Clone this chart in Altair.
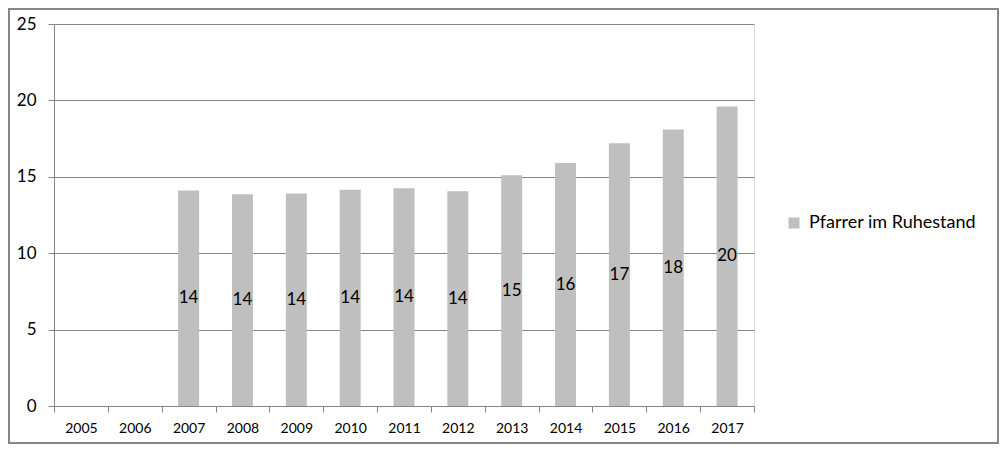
import altair as alt
import pandas as pd

years = ["2005", "2006", "2007", "2008", "2009", "2010", "2011", "2012", "2013", "2014", "2015", "2016", "2017"]
values = [None, None, 14.1, 13.85, 13.9, 14.15, 14.25, 14.05, 15.1, 15.9, 17.2, 18.1, 19.6]
series = "Pfarrer im Ruhestand"

df = pd.DataFrame({"Jahr": years, "Wert": values})
df = df.dropna().copy()
df["Serie"] = series
df["Label"] = df["Wert"].round(0).astype(int).astype(str)

FONT = "Lato"
W, H = 700, 382
xscale = alt.Scale(domain=years, paddingInner=0, paddingOuter=0)

xenc = alt.X("Jahr:N", title=None, sort=years, scale=xscale,
             axis=alt.Axis(labelAngle=0, tickBand="extent", domainColor="#868686", tickColor="#868686",
                           tickSize=6, labelFontSize=14, labelFont=FONT, labelColor="#000000",
                           labelPadding=9, grid=False))

bars = alt.Chart(df).mark_bar(color="#BFBFBF", size=21).encode(
    x=xenc,
    y=alt.Y("Wert:Q", title=None,
            scale=alt.Scale(domain=[0, 25], nice=False),
            axis=alt.Axis(values=[0, 5, 10, 15, 20, 25], gridColor="#868686", domainColor="#868686",
                          tickColor="#868686", tickSize=6, labelFontSize=17, labelFont=FONT,
                          labelColor="#000000", labelPadding=12)),
    color=alt.Color("Serie:N", title=None,
                    scale=alt.Scale(domain=[series], range=["#BFBFBF"]),
                    legend=alt.Legend(orient="none", legendX=731, legendY=190, symbolType="square",
                                      symbolSize=121, labelFontSize=18, labelFont=FONT,
                                      labelColor="#000000", symbolStrokeWidth=0, labelOffset=6,
                                      labelLimit=400)),
)

labels = alt.Chart(df).mark_text(fontSize=17, font=FONT, color="#000000", baseline="middle").encode(
    x=alt.X("Jahr:N", sort=years, scale=xscale),
    y=alt.Y("mid:Q"),
    text="Label:N",
).transform_calculate(mid="datum.Wert / 2")

border = alt.Chart(pd.DataFrame({"a": [0]})).mark_rect(fill=None, stroke="#868686", strokeWidth=2).encode(
    x=alt.value(-45), x2=alt.value(W + 244), y=alt.value(-15), y2=alt.value(H + 37)
)

chart = alt.layer(bars, labels, border).properties(
    width=W, height=H,
    autosize=alt.AutoSizeParams(type="none"),
    padding={"left": 46, "top": 16, "right": 245, "bottom": 38},
).configure_view(stroke=None).configure(background="white")

chart.save("out.html", embed_options={"renderer": "svg", "actions": False})
